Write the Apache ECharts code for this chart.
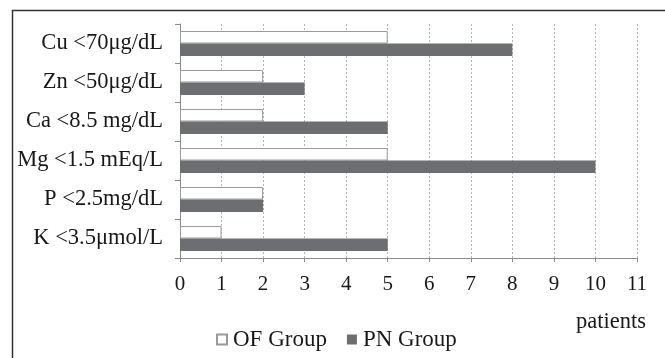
<!DOCTYPE html>
<html>
<head>
<meta charset="utf-8">
<script src="https://cdn.jsdelivr.net/npm/echarts@6/dist/echarts.min.js"></script>
<style>
html,body{margin:0;padding:0;background:#fff;}
#chart{width:665px;height:358px;}
</style>
</head>
<body>
<div id="chart"></div>
<script>
const categories = ['Cu <70μg/dL', 'Zn <50μg/dL', 'Ca <8.5 mg/dL', 'Mg <1.5 mEq/L', 'P <2.5mg/dL', 'K <3.5μmol/L'];
const ofGroup = [5, 2, 2, 5, 2, 1];
const pnGroup = [8, 3, 5, 10, 2, 5];
const xTicks = { min: 0, max: 11, interval: 1 };
const seriesNames = ['OF Group', 'PN Group'];
const unitLabel = 'patients';

const font = 'Liberation Serif, Times New Roman, serif';
const textColor = '#1a1718';
const chart = echarts.init(document.getElementById('chart'));
chart.setOption({
  animation: false,
  backgroundColor: '#fff',
  grid: { left: 180, right: 28, top: 24, bottom: 100, containLabel: false },
  legend: {
    left: 211, top: 323,
    itemWidth: 10, itemHeight: 10, itemGap: 20,
    icon: 'rect',
    textStyle: { fontFamily: font, fontSize: 23, color: textColor, padding: [0, 0, 0, 1] },
    data: seriesNames
  },
  xAxis: {
    type: 'value', min: xTicks.min, max: xTicks.max, interval: xTicks.interval,
    axisLine: { show: true, lineStyle: { color: '#8a8a8a', width: 1 } },
    axisTick: { show: true, length: 4, lineStyle: { color: '#8a8a8a' } },
    axisLabel: { fontFamily: font, fontSize: 21, color: textColor, margin: 16 },
    splitLine: { show: true, lineStyle: { color: '#b5b5b5', type: [2, 2], width: 1 } }
  },
  yAxis: {
    type: 'category', data: categories, inverse: true,
    axisLine: { show: true, lineStyle: { color: '#8a8a8a', width: 1 } },
    axisTick: { show: true, length: 5, lineStyle: { color: '#8a8a8a' } },
    axisLabel: { fontFamily: font, fontSize: 22.5, color: textColor, margin: 17 }
  },
  series: [
    {
      name: seriesNames[0], type: 'bar', data: ofGroup, barWidth: 12.5, barGap: '0%',
      itemStyle: { color: '#ffffff', borderColor: '#9a9a9a', borderWidth: 1 }
    },
    {
      name: seriesNames[1], type: 'bar', data: pnGroup, barWidth: 12.5, barGap: '0%',
      itemStyle: { color: '#6d6e71' }
    }
  ],
  graphic: [
    { type: 'rect', left: 10, top: 8, shape: { x: 0, y: 0, width: 700, height: 400 },
      style: { fill: 'none', stroke: '#333', lineWidth: 1.5 }, silent: true },
    { type: 'text', style: { x: 611, y: 322, text: unitLabel, fontFamily: font, fontSize: 22.5, fill: textColor, textAlign: 'center', textVerticalAlign: 'middle' } }
  ]
});
</script>
</body>
</html>
